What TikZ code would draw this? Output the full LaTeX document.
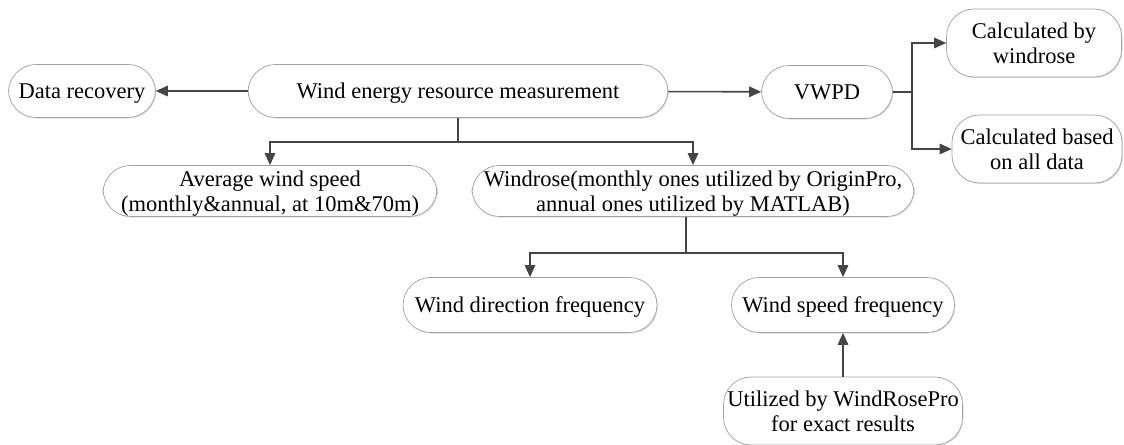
\documentclass[tikz,border=0pt]{standalone}
\usepackage{fontspec}
\setmainfont{Liberation Serif}
\usepackage{xcolor}
\usetikzlibrary{arrows.meta, positioning, shadows}
\definecolor{linegray}{HTML}{454545}
\definecolor{boxgray}{HTML}{A0A0A0}

\begin{document}
\begin{tikzpicture}[x=0.02cm, y=-0.02cm, >={Triangle[length=2.4mm, width=2.1mm]},
    every node/.style={inner sep=0.5mm, text depth=0, font=\fontsize{12.8}{14}\selectfont},
    blk/.style={draw=boxgray, line width=0.4pt, rounded corners=0.55cm, align=center, fill=white,
        drop shadow={opacity=0.25, shadow xshift=0.6pt, shadow yshift=-0.6pt}},
    arr/.style={->, draw=linegray, line width=0.9pt},
    lnk/.style={draw=linegray, line width=0.9pt}]
        \useasboundingbox (0,0) rectangle (1124,445);
        \node[blk, minimum width=2.94cm, minimum height=1.06cm] (dr) at (82,91) {Data recovery};
        \node[blk, minimum width=8.4cm, minimum height=1.06cm] (wm) at (458,91) {Wind energy resource measurement};
        \node[blk, minimum width=2.62cm, minimum height=1.06cm] (vw) at (827,92) {VWPD};
        \node[blk, minimum width=3.5cm, minimum height=1.36cm] (cw) at (1034,43) {Calculated by\\windrose};
        \node[blk, minimum width=3.4cm, minimum height=1.36cm] (cb) at (1037,149) {Calculated based\\on all data};
        \node[blk, minimum width=6.68cm, minimum height=1.02cm] (aw) at (270,191) {Average wind speed\\(monthly\&annual, at 10m\&70m)};
        \node[blk, minimum width=8.84cm, minimum height=1.02cm] (wr) at (693,191) {Windrose(monthly ones utilized by OriginPro,\\annual ones utilized by MATLAB)};
        \node[blk, minimum width=5.08cm, minimum height=1.1cm] (wd) at (530,305) {Wind direction frequency};
        \node[blk, minimum width=4.46cm, minimum height=1.1cm] (ws) at (843,305) {Wind speed frequency};
        \node[blk, minimum width=4.78cm, minimum height=1.36cm] (ut) at (843,411) {Utilized by WindRosePro\\for exact results};
        \coordinate (f1) at (458,142);
        \coordinate (f2) at (686,253);
        \coordinate (f3) at (912,92);
        \draw[arr] (wm) -- (dr);
        \draw[arr] (wm) -- (vw);
        
        \draw[lnk] (wm) -- (f1);
        \draw[arr] (f1) -| (aw);
        \draw[arr] (f1) -| (wr);
        
        \draw[lnk] (wr.south -| f2) -- (f2);
        \draw[arr] (f2) -| (wd);
        \draw[arr] (f2) -| (ws);
        \draw[arr] (ut) -- (ws);
        
        \draw[lnk] (vw) -- (f3);
        \draw[arr] (f3) |- (cw);
        \draw[arr] (f3) |- (cb);
    \end{tikzpicture}
\end{document}
